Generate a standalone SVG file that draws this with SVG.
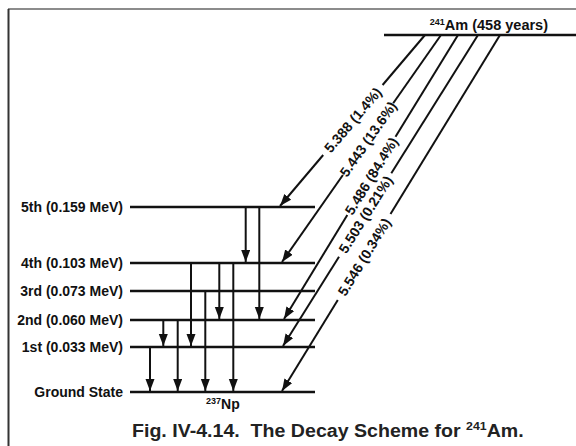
<svg xmlns="http://www.w3.org/2000/svg" width="576" height="446" viewBox="0 0 576 446">
<style>
text{font-family:"Liberation Sans",Arial,sans-serif;font-weight:bold;fill:#111}
.lvl{stroke:#111;stroke-width:2.4;fill:none}
.arr{stroke:#111;stroke-width:2;fill:none;marker-end:url(#ah)}
.seg{stroke:#111;stroke-width:2;fill:none}
.lab{font-size:14px}
.dl{font-size:14px;text-anchor:middle}
</style>
<defs>
<marker id="ah" markerUnits="userSpaceOnUse" markerWidth="13" markerHeight="10" refX="12" refY="4.5" orient="auto">
<path d="M0,0 L12,4.5 L0,9 Z" fill="#111"/>
</marker>
</defs>
<g id="frame">
<line x1="8" y1="9" x2="576" y2="9" stroke="#666" stroke-width="1.5"/>
<line x1="8.5" y1="9" x2="8.5" y2="446" stroke="#333" stroke-width="2"/>
</g>
<g id="am241">
<line class="lvl" x1="384" y1="35" x2="576" y2="35"/>
<text x="548" y="29.5" text-anchor="end" font-size="14.5"><tspan font-size="9" dy="-5">241</tspan><tspan dy="5">Am (458 years)</tspan></text>
</g>
<g id="level5">
<line class="lvl" x1="130" y1="207" x2="315" y2="207"/>
<text class="lab" x="123" y="212" text-anchor="end">5th (0.159 MeV)</text>
</g>
<g id="level4">
<line class="lvl" x1="130" y1="263" x2="315" y2="263"/>
<text class="lab" x="123" y="268" text-anchor="end">4th (0.103 MeV)</text>
</g>
<g id="level3">
<line class="lvl" x1="130" y1="291" x2="315" y2="291"/>
<text class="lab" x="123" y="296" text-anchor="end">3rd (0.073 MeV)</text>
</g>
<g id="level2">
<line class="lvl" x1="130" y1="320" x2="315" y2="320"/>
<text class="lab" x="123" y="325" text-anchor="end">2nd (0.060 MeV)</text>
</g>
<g id="level1">
<line class="lvl" x1="130" y1="347" x2="315" y2="347"/>
<text class="lab" x="123" y="352" text-anchor="end">1st (0.033 MeV)</text>
</g>
<g id="ground">
<line class="lvl" x1="130" y1="392" x2="315" y2="392"/>
<text class="lab" x="123" y="397" text-anchor="end">Ground State</text>
<text x="206" y="408.5" class="lab"><tspan font-size="9" dy="-5">237</tspan><tspan dy="5">Np</tspan></text>
</g>
<g id="connectors">
<line class="arr" x1="245.7" y1="207" x2="245.7" y2="262"/>
<line class="arr" x1="259.3" y1="207" x2="259.3" y2="319"/>
<line class="arr" x1="191" y1="263" x2="191" y2="346"/>
<line class="arr" x1="219.3" y1="263" x2="219.3" y2="319"/>
<line class="arr" x1="233.3" y1="263" x2="233.3" y2="391"/>
<line class="arr" x1="205.3" y1="291" x2="205.3" y2="391"/>
<line class="arr" x1="163.3" y1="320" x2="163.3" y2="346"/>
<line class="arr" x1="177.7" y1="320" x2="177.7" y2="391"/>
<line class="arr" x1="150" y1="347" x2="150" y2="391"/>
<line class="seg" x1="425" y1="35" x2="382.6" y2="85"/>
<line class="arr" x1="323.2" y1="155" x2="280" y2="206"/>
<line class="seg" x1="441" y1="35" x2="393.2" y2="103.3"/>
<line class="arr" x1="342.9" y1="175" x2="282" y2="262"/>
<line class="seg" x1="458" y1="35" x2="395.5" y2="136.7"/>
<line class="arr" x1="347.3" y1="215" x2="284" y2="319"/>
<line class="seg" x1="478" y1="35" x2="391.3" y2="173.3"/>
<line class="arr" x1="339" y1="256.7" x2="283" y2="346"/>
<line class="seg" x1="500" y1="35" x2="390.5" y2="214"/>
<line class="arr" x1="337.8" y1="300" x2="282" y2="391"/>
</g>
<g id="labels">
<text class="dl" transform="translate(352.9,120) rotate(-49.7)" y="5">5.388 (1.4%)</text>
<text class="dl" transform="translate(368.2,139) rotate(-55)" y="5">5.443 (13.6%)</text>
<text class="dl" transform="translate(371.3,176) rotate(-58.4)" y="5">5.486 (84.4%)</text>
<text class="dl" transform="translate(365.5,214.5) rotate(-57.9)" y="5">5.503 (0.21%)</text>
<text class="dl" transform="translate(364.1,257) rotate(-58.5)" y="5">5.546 (0.34%)</text>
</g>
<g id="caption" transform="translate(132,437) scale(1.12,1)">
<text x="0" y="0" font-size="17.5" xml:space="preserve" style="fill:#222">Fig. IV-4.14.  The Decay Scheme for <tspan font-size="11" dy="-7">241</tspan><tspan dy="7">Am.</tspan></text>
</g>
</svg>
